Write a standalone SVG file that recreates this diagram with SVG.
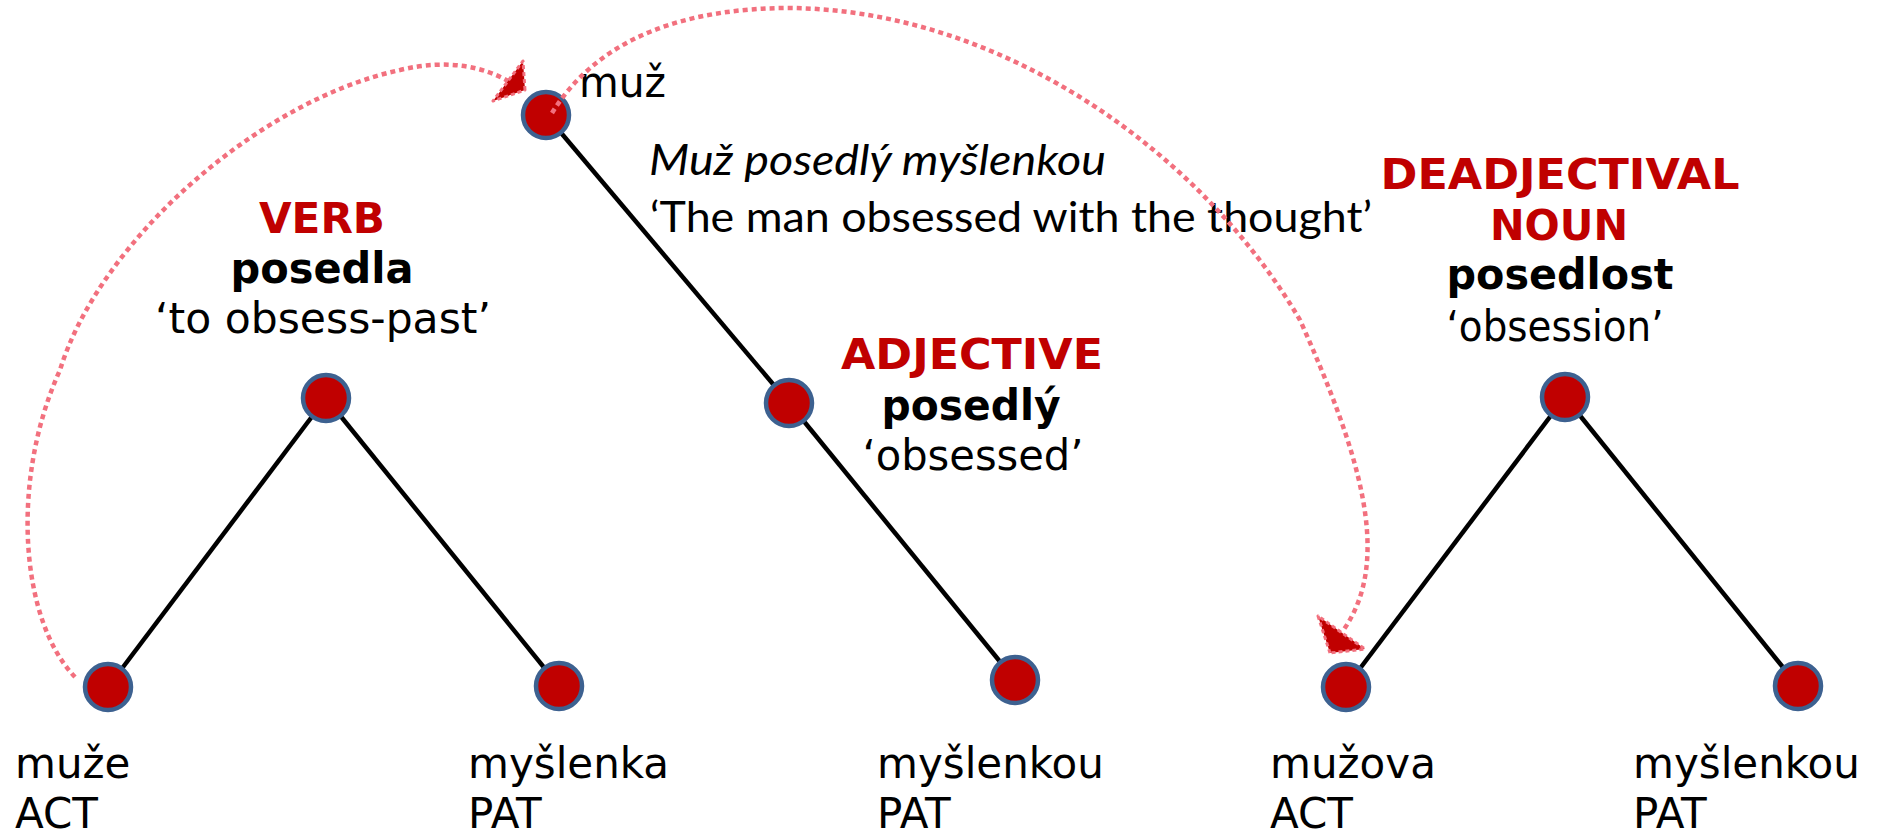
<svg xmlns="http://www.w3.org/2000/svg" width="1879" height="834" viewBox="0 0 1879 834">
<style>
.bg{fill:#ffffff}
.edge{stroke:#000000;stroke-width:4.5;fill:none;stroke-linecap:butt}
.node{fill:#C00000;stroke:#3D6190;stroke-width:4.5}
.arc{fill:none;stroke:#F2707E;stroke-width:4.5;stroke-dasharray:5 4}
.head{fill:#C00000;stroke:#F2707E;stroke-width:3;stroke-dasharray:4 3;stroke-linejoin:round}
.t{font-family:"DejaVu Sans","Liberation Sans",sans-serif;font-size:42px;fill:#000000}
.b{font-weight:bold}
.red{fill:#C00000}
.c{text-anchor:middle}
.cal{font-family:Lato,"Open Sans","Liberation Sans",sans-serif;font-size:42px;fill:#000000}
.it{font-style:italic}
</style>
<rect class="bg" x="0" y="0" width="1879" height="834"/>

<g id="edges">
  <line class="edge" x1="326" y1="398" x2="108" y2="687"/>
  <line class="edge" x1="326" y1="398" x2="559" y2="686"/>
  <line class="edge" x1="546" y1="115" x2="789" y2="403"/>
  <line class="edge" x1="789" y1="403" x2="1015" y2="680"/>
  <line class="edge" x1="1565" y1="397" x2="1346" y2="687"/>
  <line class="edge" x1="1565" y1="397" x2="1798" y2="686"/>
</g>

<g id="node-verb">
  <circle class="node" cx="326" cy="398" r="23"/>
  <text class="t b red c" x="322" y="233" textLength="126" lengthAdjust="spacingAndGlyphs">VERB</text>
  <text class="t b c" x="322" y="283" textLength="183" lengthAdjust="spacingAndGlyphs">posedla</text>
  <text class="t c" x="323" y="333" textLength="336" lengthAdjust="spacingAndGlyphs">‘to obsess-past’</text>
</g>
<g id="node-muze">
  <circle class="node" cx="108" cy="687" r="23"/>
  <text class="t" x="15" y="778">muže</text>
  <text class="t" x="15" y="828">ACT</text>
</g>
<g id="node-myslenka">
  <circle class="node" cx="559" cy="686" r="23"/>
  <text class="t" x="468" y="778">myšlenka</text>
  <text class="t" x="468" y="828">PAT</text>
</g>

<g id="node-muz">
  <circle class="node" cx="546" cy="115" r="23"/>
  <text class="t" x="579" y="97" textLength="87" lengthAdjust="spacingAndGlyphs">muž</text>
</g>
<g id="phrase">
  <text class="cal it" x="649" y="175" textLength="457" lengthAdjust="spacingAndGlyphs">Muž posedlý myšlenkou</text>
  <text class="cal" x="650" y="232" textLength="722" lengthAdjust="spacingAndGlyphs">‘The man obsessed with the thought’</text>
</g>
<g id="node-adjective">
  <circle class="node" cx="789" cy="403" r="23"/>
  <text class="t b red c" x="972" y="369" textLength="262" lengthAdjust="spacingAndGlyphs">ADJECTIVE</text>
  <text class="t b c" x="971" y="420" textLength="179" lengthAdjust="spacingAndGlyphs">posedlý</text>
  <text class="t c" x="973" y="470" textLength="221" lengthAdjust="spacingAndGlyphs">‘obsessed’</text>
</g>
<g id="node-myslenkou-adj">
  <circle class="node" cx="1015" cy="680" r="23"/>
  <text class="t" x="877" y="778">myšlenkou</text>
  <text class="t" x="877" y="828">PAT</text>
</g>

<g id="node-noun">
  <circle class="node" cx="1565" cy="397" r="23"/>
  <text class="t b red c" x="1560" y="189" textLength="359" lengthAdjust="spacingAndGlyphs">DEADJECTIVAL</text>
  <text class="t b red c" x="1559" y="240" textLength="138" lengthAdjust="spacingAndGlyphs">NOUN</text>
  <text class="t b c" x="1560" y="289" textLength="227" lengthAdjust="spacingAndGlyphs">posedlost</text>
  <text class="t c" x="1555" y="341" textLength="217" lengthAdjust="spacingAndGlyphs">‘obsession’</text>
</g>
<g id="node-muzova">
  <circle class="node" cx="1346" cy="687" r="23"/>
  <text class="t" x="1270" y="778">mužova</text>
  <text class="t" x="1270" y="828">ACT</text>
</g>
<g id="node-myslenkou-noun">
  <circle class="node" cx="1798" cy="686" r="23"/>
  <text class="t" x="1633" y="778">myšlenkou</text>
  <text class="t" x="1633" y="828">PAT</text>
</g>

<g id="connectors">
  <path class="arc" d="M 75,677 C 20,620 10,480 60,370 C 100,240 260,100 400,70 C 450,58 485,68 508,81"/>
  <polygon class="head" points="525,90 523,61 493,101"/>
  <path class="arc" d="M 552,113 C 600,35 690,8 790,8 C 1000,10 1200,150 1300,320 C 1358,450 1395,560 1342,632"/>
  <polygon class="head" points="1330,653 1318,616 1365,649"/>
</g>
</svg>
